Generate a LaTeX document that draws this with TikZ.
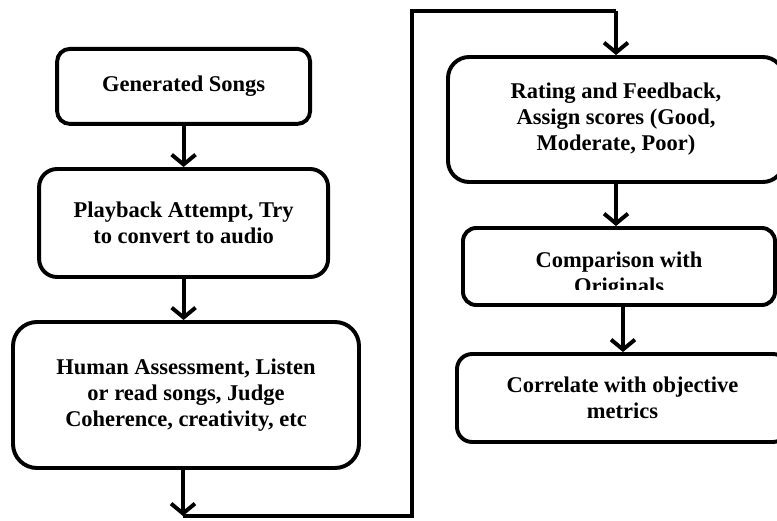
\documentclass[tikz,border=0pt]{standalone}
\usepackage{fontspec}
\setmainfont{Liberation Serif}
\usetikzlibrary{arrows.meta}

\tikzset{
  stepbox/.style={draw, line width=2.8pt, rounded corners=0.35cm, align=center,
    font=\fontsize{16}{18.5}\selectfont\bfseries, inner sep=0pt},
  flow/.style={line width=2.8pt, -{Straight Barb[length=7pt,width=17pt]}},
  wire/.style={line width=2.8pt}
}

\begin{document}
\begin{tikzpicture}
    \useasboundingbox (0,0) rectangle (19.425,-13.025);
    \clip (0,0) rectangle (19.425,-13.025);

    % Left column
    \node[stepbox, minimum width=6.325cm, minimum height=1.875cm, rounded corners=0.32cm]
        (gen) at (4.59,-2.16) {Generated Songs};
    \node[stepbox, minimum width=7.225cm, minimum height=2.7cm, rounded corners=0.45cm]
        (play) at (4.59,-5.575) {Playback Attempt, Try\\to convert to audio};
    \node[stepbox, minimum width=8.65cm, minimum height=3.65cm, rounded corners=0.6cm]
        (human) at (4.65,-9.875) {Human Assessment, Listen\\or read songs, Judge\\Coherence, creativity, etc};

    % Right column
    \node[stepbox, minimum width=8.4cm, minimum height=3.125cm, rounded corners=0.53cm]
        (rating) at (15.4,-2.9875) {Rating and Feedback,\\Assign scores (Good,\\Moderate, Poor)};
    \node[stepbox, minimum width=7.8cm, minimum height=1.925cm, rounded corners=0.33cm]
        (compare) at (15.475,-6.6625) {};
    % text of this box is cut off at the bottom
    \begin{scope}
        \clip (compare.north west) rectangle (compare.east |- 0,-7.225);
        \node[align=center, font=\fontsize{16}{18.5}\selectfont\bfseries]
            (comparetext) at (15.475,-6.88) {Comparison with\\Originals};
    \end{scope}
    \node[stepbox, minimum width=8.275cm, minimum height=2.2cm, rounded corners=0.38cm]
        (correlate) at (15.5625,-9.95) {Correlate with objective\\metrics};

    % Connectors
    \coordinate (c1) at (4.575,-12.9);
    \coordinate (c2) at (10.3,-12.9);
    \coordinate (c3) at (10.3,-0.275);
    \draw[flow] (gen.south) -- (gen.south |- play.north);
    \draw[flow] (play.south) -- (play.south |- human.north);
    \draw[flow] (human.south -| c1) -- (c1);
    \draw[wire] (c1) -- (c2) -- (c3) -- (rating.north |- c3);
    \draw[flow] (rating.north |- c3) -- (rating.north);
    \draw[flow] (rating.south) -- (rating.south |- compare.north);
    \draw[flow] (compare.south) ++(0.1,0) coordinate (c5) -- (c5 |- correlate.north);
\end{tikzpicture}
\end{document}
